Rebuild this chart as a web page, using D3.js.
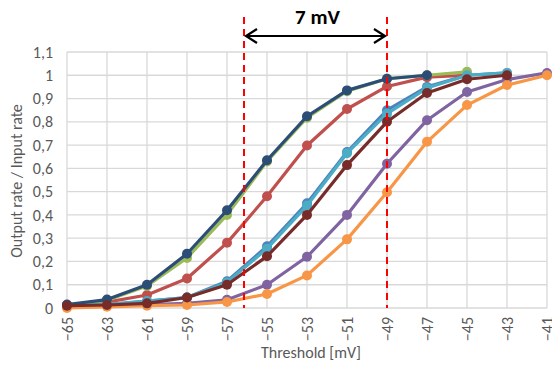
<!DOCTYPE html>
<html><head><meta charset="utf-8">
<script src="https://cdn.jsdelivr.net/npm/d3@7/dist/d3.min.js"></script>
<style>body{margin:0;background:#fff}svg{display:block;font-family:Carlito,Calibri,"Liberation Sans",Arial,sans-serif}</style>
</head><body><svg id="c" width="552" height="365"></svg>
<script>
const thresholds = [-65,-63,-61,-59,-57,-55,-53,-51,-49,-47,-45,-43,-41];
const yTicks = [0,0.1,0.2,0.3,0.4,0.5,0.6,0.7,0.8,0.9,1,1.1];
const seriesBlue     = [0.01,0.015,0.03,0.045,0.115,0.265,0.45,0.67,0.85,0.95,1.0,1.01];
const seriesRed      = [0.01,0.025,0.056,0.127,0.28,0.48,0.698,0.855,0.952,0.992,1.0];
const seriesGreen    = [0.012,0.033,0.095,0.215,0.40,0.63,0.818,0.932,0.985,1.0,1.015];
const seriesPurple   = [0.005,0.01,0.015,0.02,0.035,0.10,0.22,0.40,0.62,0.807,0.928,0.982,1.01];
const seriesCyan     = [0.01,0.015,0.03,0.045,0.11,0.255,0.44,0.665,0.835,0.945,1.0,1.01];
const seriesOrange   = [0.0,0.005,0.01,0.013,0.026,0.06,0.14,0.295,0.497,0.714,0.872,0.958,1.0];
const seriesNavy     = [0.015,0.036,0.10,0.233,0.42,0.635,0.824,0.935,0.985,1.0];
const seriesDarkRed  = [0.01,0.013,0.02,0.045,0.10,0.222,0.40,0.614,0.80,0.924,0.983,1.0];
const seriesList = [
  {values: seriesBlue, color: "#4F81BD"},
  {values: seriesRed, color: "#C0504D"},
  {values: seriesGreen, color: "#9BBB59"},
  {values: seriesPurple, color: "#8064A2"},
  {values: seriesCyan, color: "#4BACC6"},
  {values: seriesOrange, color: "#F79646"},
  {values: seriesNavy, color: "#2C4D75"},
  {values: seriesDarkRed, color: "#772C2A"}
];
const markerLines = [-56.15, -49];
const spanLabel = "7 mV";

const svg = d3.select("#c");
const L = 67, R = 547, T = 52, B = 308;
const x = d3.scaleLinear().domain([-65,-41]).range([L,R]);
const y = d3.scaleLinear().domain([0,1.1]).range([B,T]);
const FF = "Carlito,Calibri,'Liberation Sans',sans-serif";

// grid
svg.append("g").selectAll("line").data(yTicks).join("line")
  .attr("x1",L).attr("x2",R).attr("y1",d=>y(d)).attr("y2",d=>y(d))
  .attr("stroke","#d9d9d9").attr("stroke-width",1.3);
svg.append("g").selectAll("line").data(thresholds).join("line")
  .attr("x1",d=>x(d)).attr("x2",d=>x(d)).attr("y1",T).attr("y2",B)
  .attr("stroke","#d9d9d9").attr("stroke-width",1.3);

// y axis labels
const fmt = d => d3.format(".1~f")(d).replace(".",",");
const ya = svg.append("g").attr("transform",`translate(${L},0)`)
  .call(d3.axisLeft(y).tickValues(yTicks).tickFormat(fmt).tickSize(0).tickPadding(14));
ya.select(".domain").remove();
ya.selectAll("text").attr("font-size",16).attr("fill","#595959").style("font-family",FF);

// x axis labels (rotated)
const xa = svg.append("g").attr("transform",`translate(0,${B})`)
  .call(d3.axisBottom(x).tickValues(thresholds).tickFormat(d3.format("d")).tickSize(0));
xa.select(".domain").remove();
xa.selectAll("text").attr("font-size",16).attr("fill","#595959")
  .attr("transform","rotate(-90)").attr("text-anchor","end").attr("x",-9).attr("y",0).attr("dy","0.35em")
  .style("font-family",FF);

// axis titles
svg.append("text").attr("x",311).attr("y",358).attr("text-anchor","middle")
  .attr("font-size",16).attr("fill","#595959").text("Threshold [mV]");
svg.append("text").attr("transform","translate(22,181) rotate(-90)").attr("text-anchor","middle")
  .attr("font-size",16).attr("fill","#595959").text("Output rate / Input rate");

// series
const line = d3.line().x((d,i)=>x(thresholds[i])).y(d=>y(d));
seriesList.forEach(s=>{
  const g = svg.append("g");
  g.append("path").datum(s.values).attr("d",line).attr("fill","none")
    .attr("stroke",s.color).attr("stroke-width",3.2).attr("stroke-linejoin","round");
  g.selectAll("circle").data(s.values).join("circle")
    .attr("cx",(d,i)=>x(thresholds[i])).attr("cy",d=>y(d)).attr("r",5).attr("fill",s.color);
});

// red dashed lines
svg.append("g").selectAll("line").data(markerLines).join("line")
  .attr("x1",d=>x(d)).attr("x2",d=>x(d)).attr("y1",17).attr("y2",B)
  .attr("stroke","#FF0000").attr("stroke-width",2).attr("stroke-dasharray","7,5");

// arrow
const ay = 36, ax1 = x(markerLines[0])+2, ax2 = x(markerLines[1])-2;
svg.append("line").attr("x1",ax1).attr("x2",ax2).attr("y1",ay).attr("y2",ay)
  .attr("stroke","#000").attr("stroke-width",2.2);
svg.append("path").attr("d",`M${ax1+11},${ay-7} L${ax1},${ay} L${ax1+11},${ay+7}`)
  .attr("fill","none").attr("stroke","#000").attr("stroke-width",2.2);
svg.append("path").attr("d",`M${ax2-11},${ay-7} L${ax2},${ay} L${ax2-11},${ay+7}`)
  .attr("fill","none").attr("stroke","#000").attr("stroke-width",2.2);
svg.append("text").attr("x",(ax1+ax2)/2+2).attr("y",24).attr("text-anchor","middle")
  .attr("font-size",21).attr("font-weight","bold").attr("fill","#000").style("font-family",FF).text(spanLabel);
</script></body></html>
